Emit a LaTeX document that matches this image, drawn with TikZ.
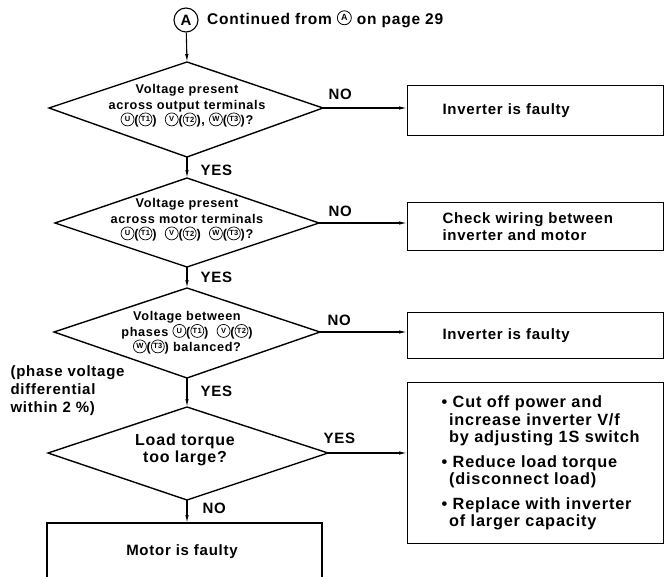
\documentclass[tikz,border=0pt]{standalone}
\usepackage{fontspec}
\setmainfont[LetterSpace=5]{Liberation Sans}
\usetikzlibrary{arrows.meta}
\newcommand\cl[1]{\tikz[baseline=-0.8ex]\node[draw,circle,line width=0.7pt,inner sep=0pt,minimum size=13pt,font=\fontsize{7.5}{7.5}\selectfont\bfseries]{#1};}
\newcommand\cla[1]{\tikz[baseline=-0.8ex]\node[draw,circle,line width=0.8pt,inner sep=0pt,minimum size=14pt,font=\fontsize{9}{9}\selectfont\bfseries]{#1};}
\newcommand\bline[1]{\mbox{#1}}
\begin{document}
\begin{tikzpicture}[x=1pt,y=-1pt,
  line width=1.1pt,
  every node/.style={font=\fontsize{15}{17.5}\selectfont\bfseries},
  dia/.style={line width=1.4pt, line join=miter},
  dtext/.style={align=center, inner sep=0pt, font=\fontsize{12.7}{15.5}\selectfont\bfseries},
  box/.style={draw, line width=1.1pt, minimum width=256pt, text width=186pt, inner xsep=35pt, inner ysep=0pt, align=left, anchor=north west},
  lbl/.style={anchor=west, inner sep=0pt},
  arr/.style={-{Latex[length=8pt,width=3.5pt]}, line width=1.1pt}]
\useasboundingbox (0,0) rectangle (666,577);
% start circle
\node[draw, circle, minimum size=24pt, inner sep=0pt, line width=1.1pt] (A) at (186,20) {A};
\node[lbl, font=\fontsize{15.5}{17.5}\selectfont\bfseries] (cont) at (207,19) {Continued from \cla{A} on page 29};
% diamond 1
\coordinate (d1n) at (187,62); \coordinate (d1e) at (323,108);
\coordinate (d1s) at (187,157); \coordinate (d1w) at (49,108);
\draw[dia] (d1n) -- (d1e) -- (d1s) -- (d1w) -- cycle;
\node[dtext] (d1) at (187,106) {Voltage present\\across output terminals\\\cl{U}(\cl{T1})\ \ \cl{V}(\cl{T2}), \cl{W}(\cl{T3})?};
% diamond 2
\coordinate (d2n) at (187,178); \coordinate (d2e) at (319,223);
\coordinate (d2s) at (187,267); \coordinate (d2w) at (55,223);
\draw[dia] (d2n) -- (d2e) -- (d2s) -- (d2w) -- cycle;
\node[dtext] (d2) at (187,220) {Voltage present\\across motor terminals\\\cl{U}(\cl{T1})\ \ \cl{V}(\cl{T2})\ \ \cl{W}(\cl{T3})?};
% diamond 3
\coordinate (d3n) at (187,288); \coordinate (d3e) at (320,332);
\coordinate (d3s) at (187,378); \coordinate (d3w) at (54,332);
\draw[dia] (d3n) -- (d3e) -- (d3s) -- (d3w) -- cycle;
\node[dtext] (d3) at (187,333) {Voltage between\\phases \cl{U}(\cl{T1})\ \ \cl{V}(\cl{T2})\\\cl{W}(\cl{T3}) balanced?};
% diamond 4
\coordinate (d4n) at (187,407); \coordinate (d4e) at (328,453);
\coordinate (d4s) at (187,500); \coordinate (d4w) at (48,453);
\draw[dia] (d4n) -- (d4e) -- (d4s) -- (d4w) -- cycle;
\node[dtext, font=\fontsize{16}{16.5}\selectfont\bfseries] (d4) at (185,450) {Load torque\\too large?};
% boxes
\node[box, minimum height=50pt] (b1) at (407,85) {Inverter is faulty};
\node[box, minimum height=48pt] (b2) at (407,202) {Check wiring between\\inverter and motor};
\node[box, minimum height=46pt] (b3) at (407,312) {Inverter is faulty};
\node[box, minimum height=161pt, inner xsep=34pt, text width=188pt, font=\fontsize{16.3}{17.5}\selectfont\bfseries] (b4) at (407,382) {%
\bline{•\ Cut off power and}\\\bline{\hspace*{7.5pt}increase inverter V/f}\\\bline{\hspace*{7.5pt}by adjusting 1S switch}\\[7pt]
\bline{•\ Reduce load torque}\\\bline{\hspace*{7.5pt}(disconnect load)}\\[7pt]
\bline{•\ Replace with inverter}\\\bline{\hspace*{7.5pt}of larger capacity}};
% motor box (bottom cut off)
\coordinate (m1) at (47,577); \coordinate (m2) at (47,523);
\coordinate (m3) at (322,523); \coordinate (m4) at (322,577);
\draw (m1) -- (m2) -- (m3) -- (m4);
\node[inner sep=0pt] (mot) at (182,552) {Motor is faulty};
% connectors
\draw[arr] (A) -- (d1n);
\draw[arr] (d1s) -- (d2n);
\draw[arr] (d2s) -- (d3n);
\draw[arr] (d3s) -- (d4n);
\draw[arr] (d4s) -- (d4s |- m2);
\draw[arr] (d1e) -- (d1e -| b1.west);
\draw[arr] (d2e) -- (d2e -| b2.west);
\draw[arr] (d3e) -- (d3e -| b3.west);
\draw[arr] (d4e) -- (d4e -| b4.west);
% labels
\node[lbl] (y1) at (200,170) {YES};
\node[lbl] (y2) at (200,277) {YES};
\node[lbl] (y3) at (200,391) {YES};
\node[lbl] (n4) at (202,508) {NO};
\node[lbl] (n1) at (328,94) {NO};
\node[lbl] (n2) at (328,211) {NO};
\node[lbl] (n3) at (327,320) {NO};
\node[lbl] (y4) at (323,438) {YES};
\node[lbl, align=left, font=\fontsize{15}{18}\selectfont\bfseries] (note) at (10,391) {(phase voltage\\differential\\within 2 \%)};
\end{tikzpicture}
\end{document}
